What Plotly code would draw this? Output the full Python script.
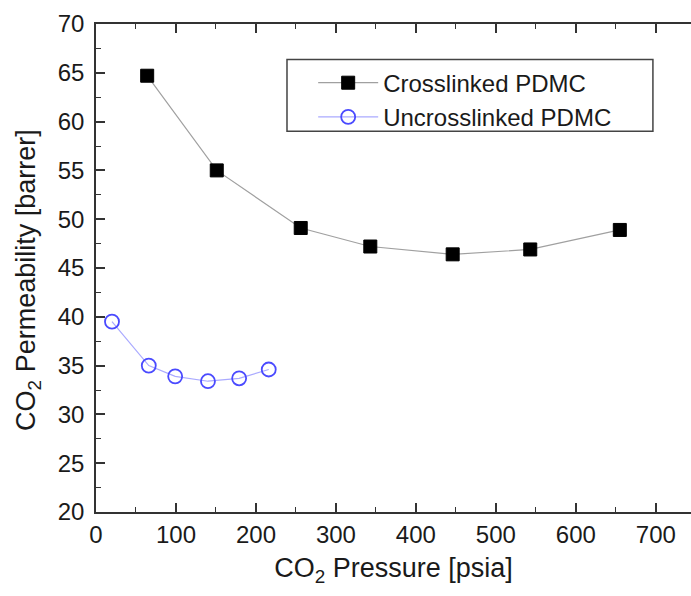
import plotly.graph_objects as go

# Data
cross_x = [64, 151, 256, 343, 446, 543, 655]
cross_y = [64.7, 55.0, 49.1, 47.2, 46.4, 46.9, 48.9]
uncross_x = [20, 66, 99, 140, 179, 216]
uncross_y = [39.5, 35.0, 33.9, 33.4, 33.7, 34.6]

x_ticks = [0, 100, 200, 300, 400, 500, 600, 700]
y_ticks = [20, 25, 30, 35, 40, 45, 50, 55, 60, 65, 70]

FONT = "Liberation Sans, Arial, sans-serif"

fig = go.Figure()
fig.add_trace(go.Scatter(
    x=cross_x, y=cross_y, mode="lines+markers", name="Crosslinked PDMC",
    line=dict(color="#a0a0a0", width=1.2),
    marker=dict(symbol="square", size=13, color="black", line=dict(color="black", width=1)),
))
fig.add_trace(go.Scatter(
    x=uncross_x, y=uncross_y, mode="lines+markers", name="Uncrosslinked PDMC",
    line=dict(color="#aaaaff", width=1.2),
    marker=dict(symbol="circle-open", size=14, color="#4a4aff", line=dict(color="#4a4aff", width=1.8)),
))

axis_common = dict(
    showline=True, linecolor="#333333", linewidth=1.5,
    ticks="inside", ticklen=9, tickwidth=1.5, tickcolor="#333333",
    showgrid=False, zeroline=False,
    tickfont=dict(family=FONT, size=24, color="#1a1a1a"),
)

fig.update_layout(
    width=691, height=596,
    margin=dict(l=96, r=0, t=24, b=84),
    paper_bgcolor="white", plot_bgcolor="white",
    font=dict(family=FONT, color="#1a1a1a"),
    xaxis=dict(
        range=[0, 744], tickvals=x_ticks, mirror="ticks",
        minor=dict(ticks="inside", ticklen=5, tickwidth=1.2, tickcolor="#333333", dtick=50),
        title=dict(text="CO<sub>2</sub> Pressure [psia]", font=dict(family=FONT, size=27, color="#1a1a1a"), standoff=12),
        **axis_common,
    ),
    yaxis=dict(
        range=[20, 70], tickvals=y_ticks, ticklabelstandoff=5,
        minor=dict(ticks="inside", ticklen=5, tickwidth=1.2, tickcolor="#333333", dtick=2.5),
        **axis_common,
    ),
    yaxis2=dict(
        overlaying="y", side="right", range=[20, 70], tickvals=y_ticks,
        showticklabels=False, showline=False, showgrid=False, zeroline=False,
        ticks="inside", ticklen=9, tickwidth=1.5, tickcolor="#333333",
        minor=dict(ticks="inside", ticklen=5, tickwidth=1.2, tickcolor="#333333", dtick=2.5),
    ),
    legend=dict(
        x=0.365, y=0.925, xanchor="left", yanchor="top",
        bgcolor="rgba(0,0,0,0)", borderwidth=0,
        font=dict(family=FONT, size=24, color="#1a1a1a"),
        itemwidth=60, tracegroupgap=0,
    ),
    shapes=[dict(
        type="rect", xref="paper", yref="paper",
        x0=0.321, x1=0.936, y0=0.780, y1=0.927,
        line=dict(color="#444444", width=1.5), fillcolor="rgba(0,0,0,0)", layer="below",
    )],
    annotations=[dict(
        text="CO<sub>2</sub> Permeability [barrer]", textangle=-90,
        xref="paper", yref="paper", x=-0.114, y=0.476, xanchor="center", yanchor="middle",
        showarrow=False, font=dict(family=FONT, size=27, color="#1a1a1a"),
    )],
)

fig.write_html("out.html")
